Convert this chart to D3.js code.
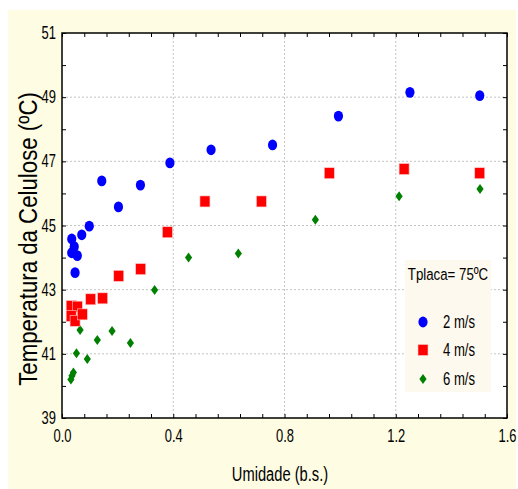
<!DOCTYPE html>
<html>
<head>
<meta charset="utf-8">
<script src="https://cdn.jsdelivr.net/npm/d3@7"></script>
<style>
  body { margin: 0; background: #fff; }
  text { font-family: "Liberation Sans", Arial, sans-serif; }
</style>
</head>
<body>
<script>
// Temperatura da celulose vs umidade, Tplaca = 75 C

var width = 518;
var height = 489;

// data [umidade, temperatura]
var v2 = [
  [0.035, 44.58], [0.035, 44.15], [0.044, 44.34], [0.047, 43.53], [0.055, 44.06],
  [0.071, 44.71], [0.098, 44.98], [0.143, 46.39], [0.203, 45.58], [0.282, 46.26],
  [0.388, 46.95], [0.536, 47.36], [0.757, 47.51], [0.994, 48.41], [1.251, 49.15],
  [1.502, 49.05]
];
var v4 = [
  [0.033, 42.49], [0.055, 42.47], [0.033, 42.18], [0.047, 42.03], [0.073, 42.23],
  [0.103, 42.70], [0.146, 42.73], [0.204, 43.43], [0.283, 43.64], [0.379, 44.79],
  [0.514, 45.75], [0.717, 45.75], [0.961, 46.63], [1.230, 46.76], [1.502, 46.63]
];
var v6 = [
  [0.032, 40.20], [0.036, 40.32], [0.041, 40.42], [0.052, 41.02], [0.065, 41.74],
  [0.091, 40.84], [0.127, 41.43], [0.180, 41.71], [0.246, 41.34], [0.333, 42.99],
  [0.455, 44.00], [0.634, 44.13], [0.911, 45.18], [1.212, 45.91], [1.503, 46.14]
];
var seriesNames = ["2 m/s", "4 m/s", "6 m/s"];
var xTicks = [0, 0.4, 0.8, 1.2, 1.6];
var yTicks = [39, 41, 43, 45, 47, 49, 51];

// plot box ("top" is taken by window.top, so m*)
var mLeft = 62, mRight = 507, mTop = 33, mBottom = 418;
var narrow = 0.74; // the original looks squeezed sideways, no narrow font here

var svg = d3.select("body").append("svg")
    .attr("width", width)
    .attr("height", height);

// cream background
svg.append("rect")
   .attr("x", 8).attr("y", 10)
   .attr("width", 508).attr("height", 479)
   .attr("fill", "#fefce2");

svg.append("rect")
   .attr("x", mLeft).attr("y", mTop)
   .attr("width", mRight - mLeft).attr("height", mBottom - mTop)
   .attr("fill", "#fff");

var xScale = d3.scaleLinear().domain([0, 1.6]).range([mLeft, mRight]);
var yScale = d3.scaleLinear().domain([39, 51]).range([mBottom, mTop]);

// dotted grid at the major ticks
var grid = svg.append("g").attr("stroke", "#c4c4c4").attr("stroke-dasharray", "2,2");
grid.selectAll(".gx")
    .data(xTicks.slice(1, -1))
    .enter().append("line")
    .attr("x1", function(d){ return xScale(d); })
    .attr("x2", function(d){ return xScale(d); })
    .attr("y1", mTop).attr("y2", mBottom);
grid.selectAll(".gy")
    .data(yTicks.slice(1, -1))
    .enter().append("line")
    .attr("y1", function(d){ return yScale(d); })
    .attr("y2", function(d){ return yScale(d); })
    .attr("x1", mLeft).attr("x2", mRight);

// axes: labels on bottom/left, inward ticks on all four sides
var xMinor = d3.range(0, 1.6001, 0.08);
var yMinor = d3.range(39, 51.001, 1);

function styleAxis(g) {
  g.select(".domain").remove();
  g.selectAll("line").attr("stroke", "#000");
  g.selectAll("text").attr("font-size", "17.5px").attr("fill", "#000");
}

function squeeze(sel, k) {
  // scale text sideways around its own x
  k = k || narrow;
  sel.each(function(){
    var t = d3.select(this);
    var x = +t.attr("x") || 0;
    var prev = t.attr("transform") || "";
    t.attr("transform", prev + " translate(" + x + ",0) scale(" + k + ",1) translate(" + (-x) + ",0)");
  });
}

var xAxisG = svg.append("g")
   .attr("transform", "translate(0," + mBottom + ")")
   .call(d3.axisBottom(xScale).tickValues(xMinor).tickSize(-4).tickPadding(12)
         .tickFormat(function(d){
           return xTicks.some(function(t){ return Math.abs(t - d) < 1e-6; }) ? d3.format(".1f")(d) : "";
         }))
   .call(styleAxis);
xAxisG.selectAll("text").attr("transform", "scale(" + narrow + ",1)");

svg.append("g")
   .attr("transform", "translate(0," + mTop + ")")
   .call(d3.axisTop(xScale).tickValues(xMinor).tickSize(-4).tickFormat(""))
   .call(styleAxis);

var yAxisG = svg.append("g")
   .attr("transform", "translate(" + mLeft + ",0)")
   .call(d3.axisLeft(yScale).tickValues(yMinor).tickSize(-4).tickPadding(6)
         .tickFormat(function(d){ return yTicks.indexOf(d) >= 0 ? d : ""; }))
   .call(styleAxis);
yAxisG.selectAll("text").call(squeeze);

svg.append("g")
   .attr("transform", "translate(" + mRight + ",0)")
   .call(d3.axisRight(yScale).tickValues(yMinor).tickSize(-4).tickFormat(""))
   .call(styleAxis);

svg.append("rect")
   .attr("x", mLeft).attr("y", mTop)
   .attr("width", mRight - mLeft).attr("height", mBottom - mTop)
   .attr("fill", "none").attr("stroke", "#000").attr("stroke-width", 1.5);

// markers
function circles(g, data) {
  g.selectAll("ellipse").data(data).enter().append("ellipse")
   .attr("cx", function(d){ return xScale(d[0]); })
   .attr("cy", function(d){ return yScale(d[1]); })
   .attr("rx", 4.6).attr("ry", 5.4)
   .attr("fill", "#0000ff");
}
function squares(g, data) {
  g.selectAll("rect").data(data).enter().append("rect")
   .attr("x", function(d){ return xScale(d[0]) - 5; })
   .attr("y", function(d){ return yScale(d[1]) - 5.5; })
   .attr("width", 10).attr("height", 11)
   .attr("fill", "#ff0000")
   .attr("stroke", "#ffc8c8").attr("stroke-width", 0.6);
}
function diamonds(g, data) {
  g.selectAll("path").data(data).enter().append("path")
   .attr("d", "M0,-5L3.6,0L0,5L-3.6,0Z")
   .attr("transform", function(d){ return "translate(" + xScale(d[0]) + "," + yScale(d[1]) + ")"; })
   .attr("fill", "#008000");
}

diamonds(svg.append("g"), v6);
squares(svg.append("g"), v4);
circles(svg.append("g"), v2);

// axis titles
svg.append("text")
   .attr("x", 280).attr("y", 481)
   .attr("text-anchor", "middle")
   .attr("font-size", "21px")
   .text("Umidade (b.s.)")
   .call(squeeze, 0.7);

svg.append("text")
   .attr("transform", "translate(37,239) rotate(-90) scale(0.89,1)")
   .attr("text-anchor", "middle")
   .attr("font-size", "25px")
   .text("Temperatura da Celulose (ºC)");

// legend
var lg = svg.append("g");
lg.append("rect")
  .attr("x", 405).attr("y", 260)
  .attr("width", 86).attr("height", 132)
  .attr("fill", "#fdf9ee");
lg.append("text")
  .attr("x", 448).attr("y", 280)
  .attr("text-anchor", "middle")
  .attr("font-size", "17px")
  .text("Tplaca= 75ºC")
  .call(squeeze, 0.78);

var legY = [322, 350, 379];
circles(lg.append("g"), [[xScale.invert(423), yScale.invert(legY[0])]]);
squares(lg.append("g"), [[xScale.invert(423), yScale.invert(legY[1])]]);
diamonds(lg.append("g"), [[xScale.invert(423), yScale.invert(legY[2])]]);
lg.selectAll(".lt").data(seriesNames).enter().append("text")
  .attr("x", 443)
  .attr("y", function(d, i){ return legY[i] + 6; })
  .attr("font-size", "17.5px")
  .text(function(d){ return d; })
  .call(squeeze, 0.75);
</script>
</body>
</html>
